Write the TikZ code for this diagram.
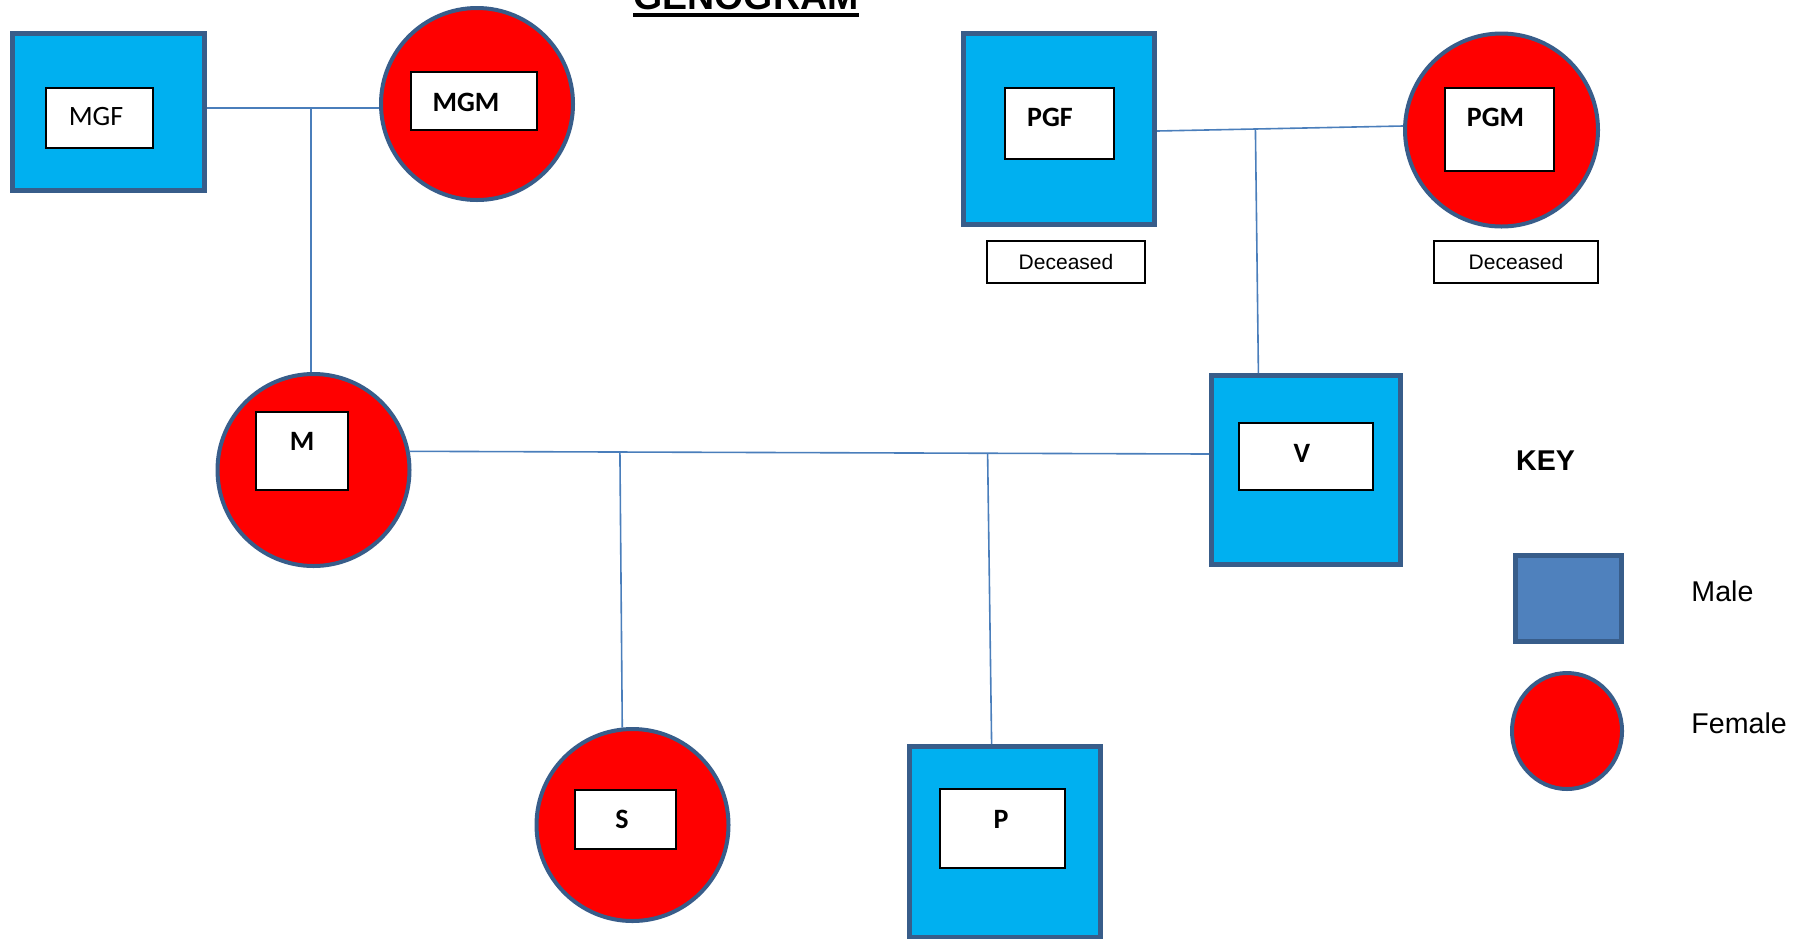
\documentclass[tikz,border=0pt]{standalone}
\usepackage{fontspec}
\setmainfont{Liberation Sans}
\newfontfamily\calibri{Carlito}
\usetikzlibrary{shapes.geometric}
\definecolor{maleblue}{HTML}{00B0F0}
\definecolor{femred}{HTML}{FF0000}
\definecolor{rimblue}{HTML}{385D8A}
\definecolor{keyblue}{HTML}{4F81BD}
\definecolor{linkblue}{HTML}{4A7EBB}
\begin{document}
\begin{tikzpicture}[x=0.5pt,y=-0.5pt,
  male/.style={rectangle,draw=rimblue,fill=maleblue,line width=2.5pt,inner sep=0,minimum width=95.5pt,minimum height=95.5pt},
  female/.style={circle,draw=rimblue,fill=femred,line width=2pt,inner sep=0,minimum size=96pt},
  tag/.style={rectangle,draw=black,fill=white,line width=0.7pt,inner sep=0},
  who/.style={font=\calibri\bfseries\fontsize{14}{16}\selectfont,inner sep=0},
  note/.style={rectangle,draw=black,line width=0.8pt,inner sep=0,minimum width=#1,minimum height=21pt,font=\fontsize{10.5}{12}\selectfont},
  keytext/.style={font=\fontsize{14.3}{17}\selectfont,inner sep=0,anchor=west},
  link/.style={draw=linkblue,line width=0.8pt}]
\useasboundingbox (0,0) rectangle (1807,938);

% Title
\node[font=\bfseries\fontsize{18.75}{22}\selectfont,inner sep=0,anchor=base] (title) at (746,9) {GENOGRAM};
\draw[line width=1.6pt] ([yshift=-3pt]title.base west) -- ([yshift=-3pt]title.base east);

% Maternal grandparents
\node[male,minimum width=96pt,minimum height=78.5pt] (mgf) at (108.5,112) {};
\node[female] (mgm) at (477,104) {};
\node[tag,minimum width=53.5pt,minimum height=30pt] (mgf-tag) at (99.5,118) {};
\node[who,font=\calibri\fontsize{14}{16}\selectfont] (mgf-name) at (96,117) {MGF};
\node[tag,minimum width=63pt,minimum height=29pt] (mgm-tag) at (474,101) {};
\node[who] (mgm-name) at (466,102) {MGM};

% Paternal grandparents
\node[male] (pgf) at (1059,129) {};
\node[female,minimum size=96.5pt] (pgm) at (1501.5,130) {};
\node[tag,minimum width=54.5pt,minimum height=35.5pt] (pgf-tag) at (1059.5,123.5) {};
\node[who] (pgf-name) at (1050,117) {PGF};
\node[tag,minimum width=54.5pt,minimum height=41.5pt] (pgm-tag) at (1499.5,129.5) {};
\node[who] (pgm-name) at (1495.5,117) {PGM};
\node[note=79pt] (pgf-note) at (1066,262) {Deceased};
\node[note=82pt] (pgm-note) at (1516,262) {Deceased};

% Parents
\node[female] (m) at (313.5,470) {};
\node[male,minimum width=94.5pt,minimum height=94.5pt] (v) at (1306,470) {};
\node[tag,minimum width=46pt,minimum height=39pt] (m-tag) at (302,451) {};
\node[who] (m-name) at (302,441) {M};
\node[tag,minimum width=67pt,minimum height=33.5pt] (v-tag) at (1306,456.5) {};
\node[who] (v-name) at (1302,453) {V};

% Children
\node[female] (s) at (632.5,825) {};
\node[male] (p) at (1004.5,842) {};
\node[tag,minimum width=50.5pt,minimum height=29.5pt] (s-tag) at (625.5,819.5) {};
\node[who] (s-name) at (622,819) {S};
\node[tag,minimum width=62.5pt,minimum height=39.5pt] (p-tag) at (1002.5,828.5) {};
\node[who] (p-name) at (1001,819) {P};

% Lines
\coordinate (mjoin) at (311,108);
\draw[link] (mjoin -| mgf.east) -- (mjoin -| mgm.west);
\draw[link] (mjoin) -- (mjoin |- m.north);
\draw[link] ([yshift=-1pt]pgf.east) -- coordinate[pos=0.4] (pjoin) ([yshift=2pt]pgm.west);
\draw[link] (pjoin) -- ([xshift=1.5pt]pjoin |- v.north);
\draw[link] (m.11) -- coordinate[pos=0.263] (sjoin) coordinate[pos=0.723] (cjoin) ([yshift=8pt]v.west);
\draw[link] (sjoin) -- (s.96);
\draw[link] (cjoin) -- ([xshift=2pt]cjoin |- p.north);

% Key
\node[font=\bfseries\fontsize{14.3}{17}\selectfont,inner sep=0] (key) at (1545.5,461) {KEY};
\node[rectangle,draw=rimblue,fill=keyblue,line width=2.5pt,minimum width=53pt,minimum height=43pt] (key-male) at (1568.5,598.5) {};
\node[ellipse,draw=rimblue,fill=femred,line width=2pt,inner sep=0,minimum width=55pt,minimum height=58pt] (key-female) at (1567,731) {};
\node[keytext] (key-male-txt) at (1691,591.5) {Male};
\node[keytext] (key-female-txt) at (1691,723) {Female};
\end{tikzpicture}
\end{document}
